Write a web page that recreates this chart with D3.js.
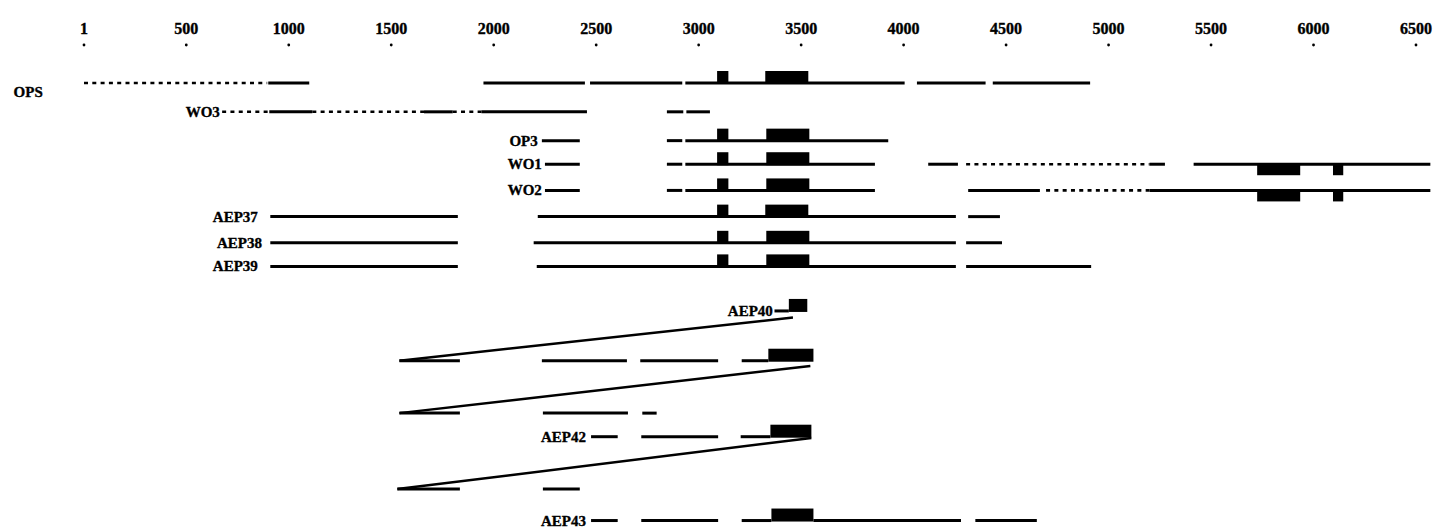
<!DOCTYPE html>
<html>
<head>
<meta charset="utf-8">
<script src="https://cdn.jsdelivr.net/npm/d3@7"></script>
<style>
  body { margin: 0; background: #fff; }
  text { font-family: "Liberation Serif", "Times New Roman", serif; font-weight: bold; fill: #000; stroke: #000; stroke-width: 0.35px; }
</style>
</head>
<body>
<div id="map"></div>
<script>
// sequence coordinates (bp)
const tickValues = [1, 500, 1000, 1500, 2000, 2500, 3000, 3500, 4000, 4500, 5000, 5500, 6000, 6500];

const rowNames  = ["OPS", "WO3", "OP3", "WO1", "WO2", "AEP37", "AEP38", "AEP39", "AEP40", "", "", "AEP42", "", "AEP43"];
const rowTracks = [0, 1.1, 2.2, 3.1, 4.1, 5.1, 6.1, 7, 8.7, 10.6, 12.6, 13.5, 15.5, 16.7];
const labelEnds = [-200, 664, 2215, 2235, 2235, 849, 869, 849, 3362, null, null, 2450, null, 2450];

const solidSegs = [
  [[900, 1100], [1950, 2445], [2470, 2920], [2935, 4005], [4065, 4400], [4435, 4910]],
  [[905, 1115], [1660, 1800], [1940, 2455], [2845, 2925], [2940, 3055]],
  [[2235, 2420], [2845, 2920], [2935, 3925]],
  [[2250, 2420], [2845, 2920], [2935, 3860], [4120, 4265], [5200, 5275], [5415, 6570]],
  [[2250, 2420], [2845, 2920], [2935, 3860], [4315, 4665], [5200, 6570]],
  [[910, 1825], [2215, 4255], [4315, 4470]],
  [[910, 1825], [2195, 4255], [4305, 4480]],
  [[910, 1825], [2210, 4255], [4305, 4915]],
  [[3370, 3440]],
  [[1540, 1835], [2235, 2650], [2715, 3095], [3210, 3340]],
  [[1540, 1835], [2240, 2655], [2725, 2795]],
  [[2475, 2605], [2720, 3095], [3205, 3350]],
  [[1530, 1835], [2240, 2420]],
  [[2475, 2605], [2720, 3095], [3210, 3355], [3560, 4280], [4350, 4650]]
];

const dottedSegs = [
  [[1, 895]],
  [[675, 905], [1115, 1660], [1800, 1940]],
  [],
  [[4305, 5200]],
  [[4695, 5200]],
  [], [], [], [], [], [], [], [], []
];

const blocksAbove = [
  [[3090, 3145], [3325, 3535]],
  [],
  [[3090, 3145], [3330, 3540]],
  [[3090, 3145], [3330, 3540]],
  [[3090, 3145], [3330, 3540]],
  [[3090, 3145], [3325, 3535]],
  [[3090, 3145], [3330, 3540]],
  [[3090, 3145], [3330, 3540]],
  [[3440, 3530]],
  [[3340, 3560]],
  [],
  [[3350, 3550]],
  [],
  [[3355, 3560]]
];

const blocksBelow = [
  [], [], [],
  [[5725, 5935], [6095, 6145]],
  [[5725, 5935], [6095, 6145]],
  [], [], [], [], [], [], [], [], []
];

// fused pieces: [from bp, from track, to bp, to track]
const joins = [
  [3460, 8.95, 1540, 10.6],
  [3545, 10.8, 1540, 12.6],
  [3550, 13.55, 1530, 15.5]
];

const width = 1446, height = 531;
const ink = "#000";

const svg = d3.select("#map").append("svg")
  .attr("width", width)
  .attr("height", height);

const x = d3.scaleLinear().domain([1, 6500]).range([84, 1416]);
const y = d3.scaleLinear().domain([0, 1]).range([83, 109.2]);

// top ruler
svg.selectAll("text.tickLabel")
  .data(tickValues)
  .enter()
  .append("text")
  .attr("class", "tickLabel")
  .attr("x", d => x(d))
  .attr("y", 34)
  .attr("text-anchor", "middle")
  .style("font-size", "16px")
  .text(d => d);

svg.selectAll("circle.tickDot")
  .data(tickValues)
  .enter()
  .append("circle")
  .attr("class", "tickDot")
  .attr("cx", d => x(d))
  .attr("cy", 45)
  .attr("r", 1.4)
  .style("fill", ink);

// diagonal joins
svg.selectAll("line.join")
  .data(joins)
  .enter()
  .append("line")
  .attr("class", "join")
  .attr("x1", d => x(d[0]))
  .attr("y1", d => y(d[1]))
  .attr("x2", d => x(d[2]))
  .attr("y2", d => y(d[3]))
  .style("stroke", ink)
  .style("stroke-width", 2.5);

const blockH = 13;

rowNames.forEach((name, i) => {
  const g = svg.append("g").attr("class", "row");
  const ry = y(rowTracks[i]);

  g.selectAll("line.solid")
    .data(solidSegs[i])
    .enter()
    .append("line")
    .attr("class", "solid")
    .attr("x1", d => x(d[0]))
    .attr("x2", d => x(d[1]))
    .attr("y1", ry)
    .attr("y2", ry)
    .style("stroke", ink)
    .style("stroke-width", 3);

  g.selectAll("line.dotted")
    .data(dottedSegs[i])
    .enter()
    .append("line")
    .attr("class", "dotted")
    .attr("x1", d => x(d[0]))
    .attr("x2", d => x(d[1]))
    .attr("y1", ry)
    .attr("y2", ry)
    .style("stroke", ink)
    .style("stroke-width", 2.6)
    .style("stroke-dasharray", "4,4.3");

  g.selectAll("rect.up")
    .data(blocksAbove[i])
    .enter()
    .append("rect")
    .attr("class", "up")
    .attr("x", d => x(d[0]))
    .attr("width", d => x(d[1]) - x(d[0]))
    .attr("y", ry - blockH + 1)
    .attr("height", blockH)
    .style("fill", ink);

  g.selectAll("rect.down")
    .data(blocksBelow[i])
    .enter()
    .append("rect")
    .attr("class", "down")
    .attr("x", d => x(d[0]))
    .attr("width", d => x(d[1]) - x(d[0]))
    .attr("y", ry - 1)
    .attr("height", blockH - 1)
    .style("fill", ink);

  if (name) {
    g.append("text")
      .attr("x", x(labelEnds[i]))
      .attr("y", ry + (i == 0 ? 14 : 5))
      .attr("text-anchor", "end")
      .style("font-size", "15px")
      .text(name);
  }
});
</script>
</body>
</html>
